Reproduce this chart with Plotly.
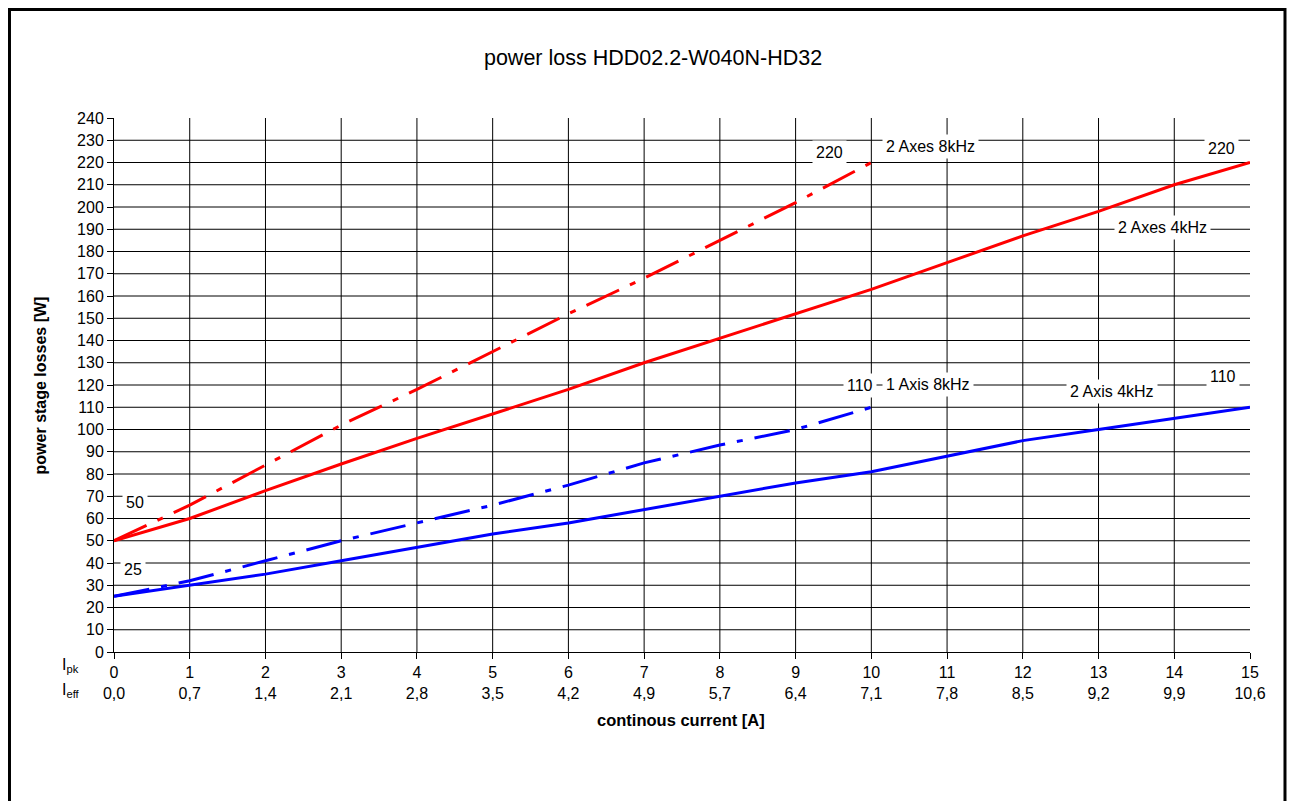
import plotly.graph_objects as go

# data
i_pk = list(range(16))
i_eff = ["0,0", "0,7", "1,4", "2,1", "2,8", "3,5", "4,2", "4,9", "5,7",
         "6,4", "7,1", "7,8", "8,5", "9,2", "9,9", "10,6"]
y_ticks = list(range(0, 250, 10))

two_axes_4k = [50, 60, 72.5, 84.5, 96, 107, 118, 130, 141, 152, 163, 175, 187, 198, 210, 220]
two_axes_8k = [50, 66, 84, 102, 118, 135, 152, 168, 185, 202, 220]
two_axis_4k = [25, 30, 35, 41, 47, 53, 58, 64, 70, 76, 81, 88, 95, 100, 105, 110]
one_axis_8k = [25, 32, 41, 50, 58, 66, 75, 85, 93, 100, 110]

labels = ["220", "2 Axes 8kHz", "220", "2 Axes 4kHz",
          "110", "1 Axis 8kHz", "2 Axis 4kHz", "110", "50", "25"]
label_x = [9.45, 10.78, 14.63, 13.85, 9.85, 10.75, 13.18, 14.65, 0.28, 0.25]
label_y = [224.3, 227, 226.5, 190.6, 120, 120.4, 116.9, 123.6, 67, 37.3]

FONT = "Liberation Sans, Arial, sans-serif"
DASHDOT = "36px,12px,6px,12px"

fig = go.Figure()

fig.add_trace(go.Scatter(x=i_pk[:len(two_axes_8k)], y=two_axes_8k, mode='lines',
                         line=dict(color='#ff0000', width=3, dash=DASHDOT)))
fig.add_trace(go.Scatter(x=i_pk, y=two_axes_4k, mode='lines',
                         line=dict(color='#ff0000', width=3)))
fig.add_trace(go.Scatter(x=i_pk[:len(one_axis_8k)], y=one_axis_8k, mode='lines',
                         line=dict(color='#0000ff', width=3, dash=DASHDOT)))
fig.add_trace(go.Scatter(x=i_pk, y=two_axis_4k, mode='lines',
                         line=dict(color='#0000ff', width=3)))

# grid lines (none at the top / right edge)
shapes = []
for v in y_ticks[1:-1]:
    shapes.append(dict(type='line', xref='x', yref='y', x0=0, x1=15, y0=v, y1=v,
                       line=dict(color='black', width=1), layer='below'))
for v in i_pk[1:-1]:
    shapes.append(dict(type='line', xref='x', yref='y', x0=v, x1=v, y0=0, y1=240,
                       line=dict(color='black', width=1), layer='below'))
# outer frame
shapes.append(dict(type='rect', xref='paper', yref='paper', x0=-0.0920, x1=1.0308,
                   y0=-0.35, y1=1.2032, line=dict(color='black', width=3)))

annotations = []
for t, x, y in zip(labels, label_x, label_y):
    annotations.append(dict(x=x, y=y, xref='x', yref='y', text=t, showarrow=False,
                            bgcolor='white', borderpad=3,
                            font=dict(family=FONT, size=16, color='black')))

annotations += [
    dict(x=-0.0475, y=-0.047, xref='paper', yref='paper', text="I<sub>pk</sub>",
         showarrow=False, font=dict(family=FONT, size=16, color='black')),
    dict(x=-0.0475, y=-0.094, xref='paper', yref='paper', text="I<sub>eff</sub>",
         showarrow=False, font=dict(family=FONT, size=16, color='black')),
    dict(x=0.4993, y=-0.148, xref='paper', yref='paper', text="<b>continous current [A]</b>",
         showarrow=False, font=dict(family=FONT, size=16.5, color='black')),
    dict(x=-0.074, y=0.5, xref='paper', yref='paper', text="<b>power stage losses [W]</b>",
         textangle=-90, showarrow=False, font=dict(family=FONT, size=16, color='black')),
]

fig.update_layout(
    width=1279,
    height=793,
    paper_bgcolor='white',
    plot_bgcolor='white',
    margin=dict(l=106, r=37, t=110, b=149),
    showlegend=False,
    title=dict(text="power loss HDD02.2-W040N-HD32", x=0.4745, xref='paper',
               xanchor='center', y=1 - 49 / 793, yanchor='middle',
               font=dict(family=FONT, size=21.5, color='black')),
    font=dict(family=FONT, size=16, color='black'),
    shapes=shapes,
    annotations=annotations,
    xaxis=dict(range=[0, 15], tickvals=i_pk,
               ticktext=[f"{a}<br>{b}" for a, b in zip(i_pk, i_eff)],
               showgrid=False, zeroline=False, showline=True, linecolor='black',
               linewidth=1, ticks='outside', ticklen=6, tickcolor='black'),
    yaxis=dict(range=[0, 240], tickvals=y_ticks, showgrid=False, zeroline=False,
               showline=True, linecolor='black', linewidth=1, ticks='outside',
               ticklen=6, tickcolor='black'),
)

fig.write_html("out.html")
